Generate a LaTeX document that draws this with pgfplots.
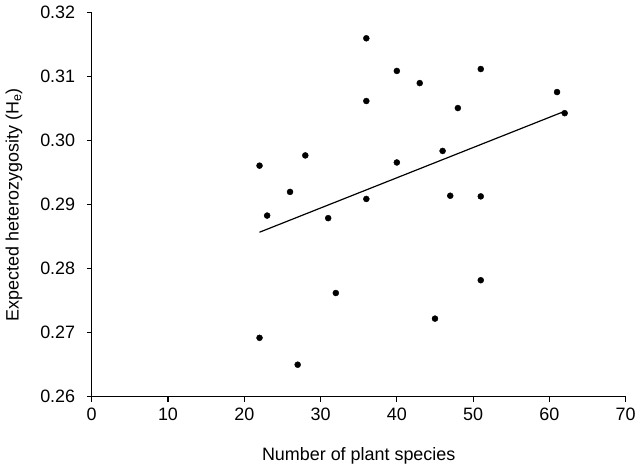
\documentclass[border=0pt]{standalone}
\usepackage{pgfplots}
\pgfplotsset{compat=1.18}
\usepackage{fontspec}
\setmainfont{Liberation Sans}
\begin{document}
\begin{tikzpicture}
\path[use as bounding box] (-91.7bp,-74.3bp) rectangle (549.3bp,396.7bp);
\begin{axis}[
  at={(0,0)}, anchor=south west,
  scale only axis, width=534bp, height=384bp,
  xmin=0, xmax=70, ymin=0.26, ymax=0.32,
  xtick={0,10,...,70},
  ytick={0.26,0.27,0.28,0.29,0.30,0.31,0.32},
  axis x line*=bottom, axis y line*=left,
  axis line style={line width=1.2bp, -},
  tick align=outside, major tick length=5bp,
  tick style={line width=1.2bp, black},
  every tick label/.append style={font=\fontsize{18}{21}\selectfont},
  /pgf/number format/assume math mode=true,
  yticklabel style={xshift=-8bp, /pgf/number format/.cd, fixed, fixed zerofill, precision=2},
  xticklabel style={yshift=-3bp},
  scaled y ticks=false,
  xlabel={Number of plant species},
  ylabel={Expected heterozygosity (H\textsubscript{e})},
  label style={font=\fontsize{18}{21}\selectfont},
  xlabel style={at={(axis description cs:0.5,0)}, anchor=base, yshift=-64bp},
  ylabel style={at={(axis description cs:-0.1455,0.5)}, anchor=center},
  clip=false,
]
\addplot[only marks, mark=*, mark size=3bp, black] coordinates {
(36,0.3160) (36,0.3062) (22,0.2961) (28,0.2977) (26,0.2920) (36,0.2909)
(40,0.3109) (43,0.3090) (51,0.3112) (61,0.3076) (62,0.3043) (48,0.3051)
(46,0.2984) (40,0.2966) (47,0.2914) (51,0.2913) (23,0.2883) (31,0.2879)
(32,0.2762) (22,0.2692) (27,0.2650) (51,0.2782) (45,0.2722)
};
\addplot[black, line width=1.2bp] coordinates {(22,0.2857) (62,0.3046)};
\end{axis}
\end{tikzpicture}
\end{document}
